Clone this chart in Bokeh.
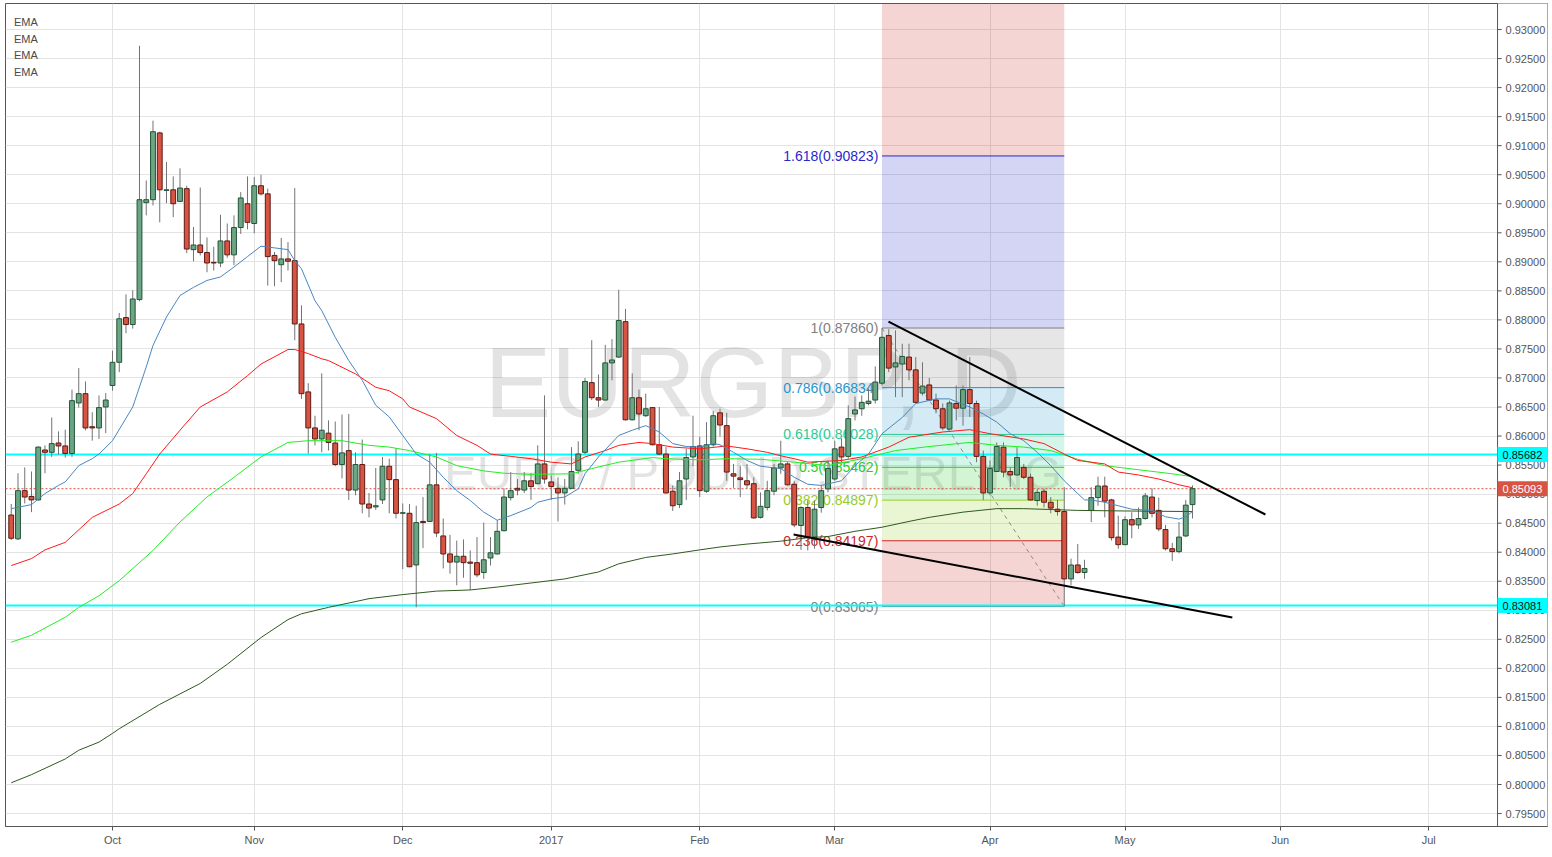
from bokeh.plotting import figure
from bokeh.models import Range1d, SingleIntervalTicker, FixedTicker
from bokeh.core.properties import value
from bokeh.embed import file_html
from bokeh.resources import INLINE

# ---------------- data (EUR/GBP daily, bar index = trading day) ----------------
opens = [0.8464,0.8423,0.8506,0.8496,0.8490,0.8576,0.8572,0.8588,0.8583,0.8570,
         0.8657,0.8673,0.8616,0.8614,0.8650,0.8687,0.8727,0.8804,0.8792,0.8835,
         0.9002,0.9007,0.9122,0.9023,0.9024,0.9004,0.9026,0.8921,0.8929,0.8916,
         0.8899,0.8898,0.8936,0.8912,0.8959,0.9000,0.8966,0.9031,0.9017,0.8911,
         0.8895,0.8905,0.8902,0.8793,0.8676,0.8614,0.8595,0.8605,0.8588,0.8551,
         0.8575,0.8507,0.8551,0.8483,0.8478,0.8490,0.8548,0.8525,0.8467,0.8467,
         0.8378,0.8453,0.8453,0.8516,0.8428,0.8397,0.8383,0.8393,0.8383,0.8382,
         0.8365,0.8390,0.8397,0.8437,0.8494,0.8510,0.8507,0.8523,0.8518,0.8552,
         0.8521,0.8510,0.8502,0.8510,0.8541,0.8572,0.8692,0.8666,0.8662,0.8726,
         0.8736,0.8797,0.8628,0.8666,0.8635,0.8649,0.8585,0.8569,0.8505,0.8482,
         0.8526,0.8564,0.8583,0.8505,0.8585,0.8640,0.8618,0.8535,0.8528,0.8523,
         0.8518,0.8460,0.8477,0.8505,0.8545,0.8552,0.8517,0.8446,0.8477,0.8426,
         0.8477,0.8509,0.8526,0.8581,0.8565,0.8638,0.8647,0.8656,0.8662,0.8691,
         0.8773,0.8719,0.8724,0.8736,0.8714,0.8674,0.8688,0.8662,0.8647,0.8612,
         0.8656,0.8648,0.8680,0.8656,0.8565,0.8502,0.8539,0.8581,0.8539,0.8533,
         0.8546,0.8529,0.8489,0.8505,0.8486,0.8474,0.8470,0.8354,0.8378,0.8365,
         0.8472,0.8494,0.8514,0.8490,0.8426,0.8413,0.8456,0.8447,0.8458,0.8495,
         0.8472,0.8439,0.8406,0.8401,0.8428,0.8482]
highs = [0.8483,0.8536,0.8546,0.8539,0.8582,0.8584,0.8632,0.8608,0.8611,0.8680,
         0.8717,0.8694,0.8641,0.8670,0.8674,0.8747,0.8812,0.8844,0.8851,0.9272,
         0.9040,0.9143,0.9124,0.9072,0.9047,0.9061,0.9031,0.8960,0.9028,0.8942,
         0.8926,0.8981,0.8966,0.8980,0.9020,0.9047,0.9046,0.9050,0.9026,0.8917,
         0.8941,0.8934,0.9027,0.8825,0.8691,0.8635,0.8708,0.8627,0.8625,0.8637,
         0.8638,0.8572,0.8594,0.8502,0.8545,0.8564,0.8561,0.8579,0.8484,0.8483,
         0.8480,0.8495,0.8569,0.8571,0.8458,0.8430,0.8420,0.8422,0.8403,0.8426,
         0.8451,0.8426,0.8455,0.8510,0.8538,0.8526,0.8538,0.8536,0.8584,0.8670,
         0.8532,0.8529,0.8526,0.8581,0.8591,0.8700,0.8765,0.8706,0.8757,0.8767,
         0.8852,0.8819,0.8708,0.8680,0.8673,0.8650,0.8650,0.8581,0.8515,0.8538,
         0.8578,0.8635,0.8599,0.8624,0.8643,0.8647,0.8640,0.8552,0.8548,0.8552,
         0.8529,0.8503,0.8523,0.8552,0.8592,0.8555,0.8523,0.8479,0.8489,0.8489,
         0.8515,0.8558,0.8592,0.8596,0.8653,0.8668,0.8670,0.8682,0.8720,0.8786,
         0.8784,0.8782,0.8759,0.8759,0.8736,0.8727,0.8700,0.8673,0.8656,0.8661,
         0.8687,0.8687,0.8736,0.8661,0.8575,0.8558,0.8589,0.8589,0.8546,0.8581,
         0.8552,0.8535,0.8509,0.8509,0.8495,0.8490,0.8512,0.8389,0.8414,0.8387,
         0.8512,0.8530,0.8530,0.8492,0.8463,0.8462,0.8469,0.8477,0.8502,0.8510,
         0.8494,0.8447,0.8416,0.8452,0.8490,0.8515]
lows = [0.8421,0.8421,0.8484,0.8469,0.8489,0.8536,0.8564,0.8568,0.8563,0.8564,
        0.8649,0.8610,0.8592,0.8595,0.8605,0.8678,0.8710,0.8777,0.8785,0.8832,
        0.8980,0.8997,0.8968,0.9001,0.8977,0.9003,0.8915,0.8901,0.8911,0.8882,
        0.8885,0.8891,0.8907,0.8894,0.8948,0.8956,0.8949,0.9014,0.8859,0.8858,
        0.8865,0.8885,0.8765,0.8664,0.8570,0.8584,0.8572,0.8575,0.8548,0.8527,
        0.8490,0.8498,0.8467,0.8460,0.8473,0.8483,0.8467,0.8458,0.8371,0.8374,
        0.8305,0.8407,0.8452,0.8426,0.8372,0.8363,0.8343,0.8356,0.8335,0.8357,
        0.8354,0.8377,0.8396,0.8436,0.8489,0.8498,0.8502,0.8490,0.8518,0.8518,
        0.8490,0.8453,0.8482,0.8509,0.8535,0.8569,0.8662,0.8650,0.8661,0.8696,
        0.8735,0.8627,0.8627,0.8610,0.8633,0.8584,0.8567,0.8501,0.8471,0.8476,
        0.8490,0.8548,0.8495,0.8502,0.8582,0.8599,0.8523,0.8511,0.8495,0.8510,
        0.8458,0.8458,0.8472,0.8498,0.8535,0.8515,0.8443,0.8404,0.8403,0.8406,
        0.8468,0.8503,0.8523,0.8554,0.8561,0.8627,0.8635,0.8653,0.8656,0.8687,
        0.8710,0.8667,0.8667,0.8696,0.8656,0.8670,0.8661,0.8639,0.8610,0.8611,
        0.8627,0.8618,0.8633,0.8555,0.8490,0.8498,0.8538,0.8529,0.8512,0.8532,
        0.8526,0.8489,0.8480,0.8477,0.8467,0.8463,0.83065,0.8343,0.8363,0.8354,
        0.8452,0.8480,0.8460,0.8420,0.8406,0.8412,0.8424,0.8440,0.8456,0.8460,
        0.8436,0.8403,0.8385,0.8398,0.8426,0.8458]
closes = [0.8424,0.8506,0.8495,0.8490,0.8581,0.8572,0.8587,0.8583,0.8570,0.8661,
          0.8673,0.8614,0.8614,0.8649,0.8662,0.8727,0.8802,0.8792,0.8836,0.9007,
          0.9007,0.9124,0.9024,0.9024,0.9000,0.9027,0.8922,0.8929,0.8916,0.8898,
          0.8898,0.8936,0.8912,0.8959,0.9010,0.8968,0.9031,0.9017,0.8909,0.8902,
          0.8905,0.8901,0.8793,0.8673,0.8614,0.8595,0.8610,0.8589,0.8551,0.8571,
          0.8507,0.8551,0.8483,0.8476,0.8480,0.8548,0.8525,0.8467,0.8468,0.8375,
          0.8451,0.8451,0.8516,0.8433,0.8397,0.8383,0.8393,0.8382,0.8381,0.8361,
          0.8387,0.8399,0.8436,0.8495,0.8506,0.8507,0.8523,0.8513,0.8552,0.8526,
          0.8513,0.8502,0.8510,0.8539,0.8569,0.8694,0.8666,0.8662,0.8726,0.8731,
          0.8799,0.8628,0.8666,0.8638,0.8647,0.8585,0.8569,0.8502,0.8480,0.8523,
          0.8563,0.8582,0.8506,0.8585,0.8635,0.8619,0.8538,0.8531,0.8525,0.8516,
          0.8459,0.8479,0.8506,0.8545,0.8552,0.8516,0.8447,0.8477,0.8426,0.8474,
          0.8506,0.8544,0.8578,0.8564,0.8630,0.8645,0.8658,0.8660,0.8693,0.8770,
          0.8717,0.8726,0.8737,0.8714,0.8658,0.8686,0.8662,0.8647,0.8614,0.8657,
          0.8648,0.8680,0.8656,0.8565,0.8502,0.8544,0.8582,0.8538,0.8533,0.8563,
          0.8529,0.8490,0.8503,0.8486,0.8476,0.8470,0.8354,0.8378,0.8365,0.8372,
          0.8494,0.8514,0.8488,0.8425,0.8413,0.8456,0.8447,0.8458,0.8497,0.8467,
          0.8440,0.8406,0.8401,0.8426,0.8481,0.85093]

# EMA readings (bar index, value)
ema_fast_bar = [0,3,5,7,8,10,12,13,15,18,20,21,23,25,27,29,31,33,35,37,39,41,42,43,45,46,48,50,52,54,
                56,58,60,62,64,66,68,70,72,74,77,78,80,82,84,85,87,90,92,94,96,98,100,102,104,105,107,109,111,114,
                116,118,120,123,125,127,129,132,134,137,139,142,144,146,148,150,152,154,156,158,
                159,160,162,164,166,169,171,173,174,175]
ema_fast_val = [0.8475,0.8482,0.8501,0.8515,0.8521,0.8549,0.8561,0.8569,0.8592,0.8650,
                0.8719,0.8756,0.8805,0.8842,0.8856,0.8868,0.8874,0.8891,0.8909,0.8927,
                0.8924,0.8921,0.8902,0.8888,0.8833,0.8816,0.8770,0.8730,0.8696,0.8653,
                0.8633,0.8601,0.8569,0.8555,0.8529,0.8506,0.8489,0.8469,0.8455,0.8463,
                0.8477,0.8486,0.8492,0.8495,0.8509,0.8535,0.8564,0.8601,0.8610,0.8618,
                0.8607,0.8587,0.8582,0.8581,0.8587,0.8585,0.8572,0.8558,0.8548,0.8544,
                0.8529,0.8517,0.8515,0.8523,0.8549,0.8569,0.8604,0.8632,0.8656,0.8664,
                0.8664,0.8650,0.8638,0.8624,0.8604,0.8592,0.8572,0.8549,0.8523,0.8501,
                0.8490,0.8490,0.8486,0.8480,0.8474,0.8472,0.8461,0.8457,0.8461,0.8470]
ema_mid_bar = [0,3,5,8,12,16,18,20,22,25,28,32,35,37,41,42,44,46,47,51,
               54,56,58,59,63,66,69,71,74,77,80,83,85,88,90,93,95,98,102,106,
               109,112,114,116,118,123,126,130,133,138,142,145,150,153,156,158,162,164,167,170,
               173,175]
ema_mid_val = [0.8377,0.8389,0.8404,0.8417,0.8460,0.8483,0.8501,0.8535,0.8569,0.8610,
               0.8650,0.8676,0.8704,0.8724,0.8749,0.8749,0.8742,0.8733,0.8730,0.8707,
               0.8684,0.8678,0.8664,0.8650,0.8630,0.8601,0.8584,0.8569,0.8565,0.8561,
               0.8555,0.8552,0.8564,0.8575,0.8584,0.8589,0.8587,0.8581,0.8578,0.8583,
               0.8578,0.8572,0.8566,0.8561,0.8555,0.8558,0.8564,0.8581,0.8598,0.8607,
               0.8611,0.8604,0.8595,0.8587,0.8569,0.8558,0.8552,0.8538,0.8533,0.8526,
               0.8516,0.8511]
ema_slow_bar = [0,3,8,10,13,16,21,25,29,33,37,41,44,49,53,56,59,63,66,70,
                73,77,83,86,90,95,97,102,106,111,116,121,126,131,136,142,146,150,154,158,
                162,167,172,175]
ema_slow_val = [0.8245,0.8257,0.8288,0.8305,0.8325,0.8351,0.8403,0.8452,0.8495,0.8529,
                0.8564,0.8589,0.8592,0.8592,0.8584,0.8581,0.8575,0.8564,0.8549,0.8540,
                0.8536,0.8534,0.8535,0.8544,0.8555,0.8563,0.8561,0.8559,0.8561,0.8560,
                0.8555,0.8549,0.8561,0.8575,0.8582,0.8589,0.8584,0.8581,0.8575,0.8560,
                0.8549,0.8542,0.8535,0.8530]
ema_long_bar = [0,3,8,10,13,15,16,22,28,32,37,41,43,47,53,58,63,68,72,77,
                82,87,90,94,98,102,105,109,114,118,121,125,129,133,136,141,146,150,158,165,
                175]
ema_long_val = [0.8003,0.8017,0.8044,0.8059,0.8073,0.8088,0.8096,0.8138,0.8174,0.8207,
                0.8253,0.8284,0.8294,0.8305,0.8320,0.8327,0.8333,0.8335,0.8340,0.8347,
                0.8354,0.8366,0.8380,0.8391,0.8397,0.8404,0.8409,0.8414,0.8419,0.8425,
                0.8427,0.8436,0.8443,0.8453,0.8460,0.8469,0.8475,0.8475,0.8472,0.8471,
                0.8470]

# time axis: bar index of first trading day of each month
month_ticks = [15, 36, 58, 80, 102, 122, 145, 165, 188, 210]
month_labels = ["Oct", "Nov", "Dec", "2017", "Feb", "Mar", "Apr", "May", "Jun", "Jul"]
# price scale tick labels
price_ticks = [0.795 + 0.005 * i for i in range(28)]

# Fibonacci retracement
fib_x0, fib_x1 = 129, 156
fib_ratios = ["0", "0.236", "0.382", "0.5", "0.618", "0.786", "1", "1.618", "2.618"]
fib_prices = [0.83065, 0.84197, 0.84897, 0.85462, 0.86028, 0.86834, 0.87860, 0.90823, 0.95618]
fib_colors = ["#808080", "#cc2828", "#95cc28", "#28cc28", "#28cc95", "#2895cc", "#808080", "#2828cc", "#cc2828"]

# horizontal levels / trend lines
support_levels = [0.85682, 0.83081]
last_price = 0.85093
upper_tl_x, upper_tl_y = [129.96, 185.8], [0.87972, 0.84649]
lower_tl_x, lower_tl_y = [115.9, 180.9], [0.84305, 0.82876]

FONT = "Liberation Sans"
X0, XSCALE, X1 = -0.85, 220.19, 227.59     # chart start, price-scale edge, frame end
Y0, Y1 = 0.79277, 0.93448
PX = (Y1 - Y0) / 823.0                       # price per pixel
BX = (X1 - X0) / 1542.0                      # bars per pixel

p = figure(frame_width=1542, frame_height=823,
           x_range=Range1d(X0, X1), y_range=Range1d(Y0, Y1),
           y_axis_location=None, toolbar_location=None, output_backend="svg",
           min_border_left=5, min_border_top=3, min_border_right=2, min_border_bottom=0)
p.background_fill_color = "white"
p.border_fill_color = "white"
p.outline_line_color = "#555555"

xax = p.xaxis[0]
xax.ticker = FixedTicker(ticks=month_ticks)
xax.major_label_overrides = {t: l for t, l in zip(month_ticks, month_labels)}
xax.axis_line_color = "#555555"
xax.major_tick_line_color = "#555555"
xax.major_tick_out = 4
xax.major_tick_in = 0
xax.minor_tick_line_color = None
xax.major_label_text_color = "#555555"
xax.major_label_text_font = FONT
xax.major_label_text_font_size = "11px"
xax.major_label_standoff = 3
p.ygrid[0].ticker = SingleIntervalTicker(interval=0.005, num_minor_ticks=0)
p.grid.grid_line_color = "#e3e3e3"

# watermark
p.text(x=[109.9], y=[0.86939], text=["EURGBP, D"], text_font=value(FONT),
       text_font_size="100px", text_color="#000000", text_alpha=0.11,
       text_align="center", text_baseline="middle")
p.text(x=[109.9], y=[0.85372], text=["EURO / POUND STERLING"], text_font=value(FONT),
       text_font_size="49px", text_color="#000000", text_alpha=0.11,
       text_align="center", text_baseline="middle")

# fib zones
nz = len(fib_prices) - 1
p.quad(left=[fib_x0] * nz, right=[fib_x1] * nz, bottom=fib_prices[:-1], top=fib_prices[1:],
       fill_color=fib_colors[1:], fill_alpha=0.2, line_alpha=0)
nl = nz
p.segment(x0=[fib_x0] * nl, x1=[fib_x1] * nl, y0=fib_prices[:nl], y1=fib_prices[:nl],
          line_color=fib_colors[:nl], line_width=1)
p.text(x=[fib_x0 - 0.55] * nl, y=fib_prices[:nl],
       text=["%s(%.5f)" % (r, v) for r, v in zip(fib_ratios[:nl], fib_prices[:nl])],
       text_color=fib_colors[:nl], text_font=value(FONT), text_font_size="14px",
       text_align="right", text_baseline="middle")
p.line(x=[fib_x0, fib_x1], y=[fib_prices[6], fib_prices[0]], line_color="#8c8c8c",
       line_dash="4 4", line_width=1)

# support lines and last price (chart area only)
p.segment(x0=[X0] * 2, x1=[XSCALE] * 2, y0=support_levels, y1=support_levels,
          line_color="#00ffff", line_width=2)
p.segment(x0=[X0], x1=[XSCALE], y0=[last_price], y1=[last_price],
          line_color="#d75442", line_dash="2 2", line_width=1)

# candles
idx = list(range(len(opens)))
up = [c >= o for o, c in zip(opens, closes)]
p.segment(x0=idx, x1=idx, y0=lows, y1=highs, line_color="#737375", line_width=1)
p.vbar(x=idx, width=0.72, top=[max(o, c) for o, c in zip(opens, closes)],
       bottom=[min(o, c) for o, c in zip(opens, closes)],
       fill_color=["#6ba583" if u else "#d75442" for u in up],
       line_color=["#225437" if u else "#5b1a13" for u in up], line_width=1)

# EMAs
p.line(ema_long_bar, ema_long_val, line_color="#2f5a1e", line_width=1)
p.line(ema_slow_bar, ema_slow_val, line_color="#22ee22", line_width=1)
p.line(ema_mid_bar, ema_mid_val, line_color="#ff1a1a", line_width=1)
p.line(ema_fast_bar, ema_fast_val, line_color="#4a86c0", line_width=1)

# trend lines
p.line(upper_tl_x, upper_tl_y, line_color="#000000", line_width=2)
p.line(lower_tl_x, lower_tl_y, line_color="#000000", line_width=2)

# indicator legend
p.text(x=[0.4] * 4, y=[0.93126, 0.92840, 0.92553, 0.92265], text=["EMA"] * 4,
       text_font=value(FONT), text_font_size="11px", text_color="#4a4a4a",
       text_align="left", text_baseline="middle")

# ---- price scale (right strip of the frame) ----
p.quad(left=[XSCALE], right=[X1 + 1], bottom=[Y0 - 0.01], top=[Y1 + 0.01],
       fill_color="white", line_alpha=0)
p.segment(x0=[XSCALE], x1=[XSCALE], y0=[Y0 - 0.01], y1=[Y1 + 0.01],
          line_color="#555555", line_width=1)
p.segment(x0=[XSCALE] * len(price_ticks), x1=[XSCALE + 4 * BX] * len(price_ticks),
          y0=price_ticks, y1=price_ticks, line_color="#555555", line_width=1)
p.text(x=[XSCALE + 8 * BX] * len(price_ticks), y=price_ticks,
       text=["%.5f" % t for t in price_ticks], text_font=value(FONT),
       text_font_size="11px", text_color="#555555", text_align="left",
       text_baseline="middle")

# price-scale badges
badge_vals = [support_levels[0], last_price, support_levels[1]]
badge_bg = ["#00ffff", "#d75442", "#00ffff"]
badge_fg = ["#111111", "#ffffff", "#111111"]
p.quad(left=[XSCALE] * 3, right=[X1 + 1] * 3,
       bottom=[v - 7.5 * PX for v in badge_vals], top=[v + 7.5 * PX for v in badge_vals],
       fill_color=badge_bg, line_alpha=0)
p.text(x=[XSCALE + 5 * BX] * 3, y=badge_vals, text=["%.5f" % v for v in badge_vals],
       text_font=value(FONT), text_font_size="11px", text_color=badge_fg,
       text_align="left", text_baseline="middle")

open("out.html", "w").write(file_html(p, INLINE))
